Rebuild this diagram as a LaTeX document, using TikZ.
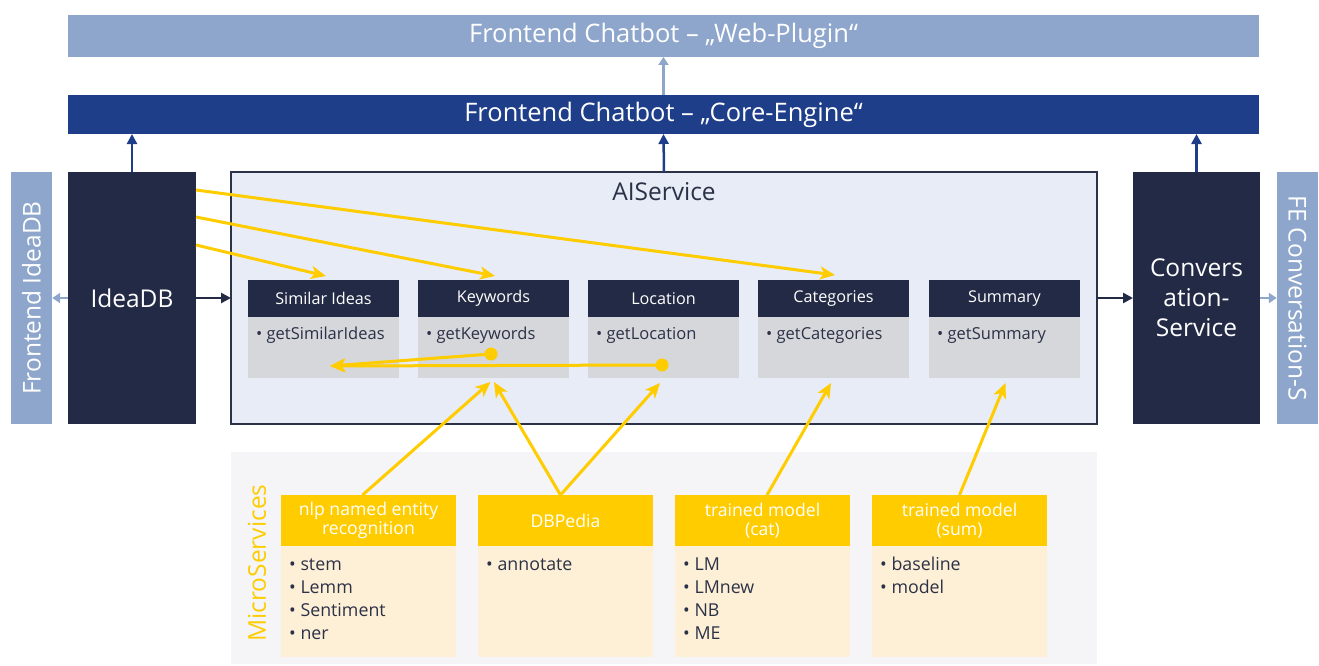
\documentclass[tikz,border=0pt]{standalone}
\usepackage{fontspec}
\setmainfont{Open Sans}
\usetikzlibrary{arrows.meta}

\definecolor{paleblue}{HTML}{8EA6CC}
\definecolor{coreblue}{HTML}{1E3E8A}
\definecolor{navy}{HTML}{232A45}
\definecolor{aifill}{HTML}{E8ECF6}
\definecolor{aiborder}{HTML}{2B3147}
\definecolor{bodygray}{HTML}{D6D7DB}
\definecolor{sunyellow}{HTML}{FFCC00}
\definecolor{cream}{HTML}{FEF0D6}
\definecolor{msback}{HTML}{F5F5F7}
\definecolor{inktext}{HTML}{2B3147}

\tikzset{
  plate/.style={inner sep=0pt, outer sep=0pt, anchor=north west},
  bigtext/.style={font=\fontsize{24.5}{30}\selectfont, text=white},
  bartext/.style={font=\fontsize{25.5}{30}\selectfont, text=white},
  fnhead/.style={plate, fill=navy, minimum width=151, minimum height=37,
    text=white, font=\fontsize{16.2}{18}\selectfont},
  fnbody/.style={plate, fill=bodygray, minimum width=151, minimum height=61},
  mshead/.style={plate, fill=sunyellow, minimum width=175, minimum height=51,
    text=white, align=center, font=\fontsize{17.6}{19}\selectfont},
  msbody/.style={plate, fill=cream, minimum width=175, minimum height=111},
  item/.style={inner sep=0pt, anchor=base west, text=inktext,
    font=\fontsize{17.8}{20}\selectfont},
  fnitem/.style={inner sep=0pt, anchor=base west, text=inktext,
    font=\fontsize{16.5}{20}\selectfont},
  darkarrow/.style={draw=navy, line width=2.5pt, -{Triangle[length=10pt,width=10pt]}},
  uparrow/.style={draw=coreblue, line width=2.5pt, -{Triangle[length=10pt,width=10pt]}},
  palearrow/.style={draw=paleblue, line width=2.5pt, -{Triangle[length=8pt,width=10pt]}},
  yarrow/.style={draw=sunyellow, line width=3pt,
    -{Stealth[length=15pt,width=13pt,inset=4pt]}},
  ydot/.style={circle, fill=sunyellow, inner sep=0pt, minimum size=13pt}
}

\begin{document}
\begin{tikzpicture}[x=1pt, y=-1pt]
\useasboundingbox (0,0) rectangle (1319,666);

% top bars
\node[plate, fill=paleblue, minimum width=1191, minimum height=42] (web) at (68,15) {};
\node[bartext] (webtxt) at (web.center) {Frontend Chatbot – „Web-Plugin“};
\node[plate, fill=coreblue, minimum width=1191, minimum height=39] (core) at (68,95) {};
\node[bartext] (coretxt) at (core.center) {Frontend Chatbot – „Core-Engine“};

% side services
\node[fill=paleblue, inner sep=0pt, minimum width=252, minimum height=41, rotate=90,
  bigtext] (feidea) at (31.5,298) {Frontend IdeaDB};
\node[plate, fill=navy, minimum width=128, minimum height=252] (ideadb) at (68,172) {};
\node[bigtext] (ideatxt) at (ideadb.center) {IdeaDB};

\node[plate, fill=navy, minimum width=127, minimum height=252] (conv) at (1133,172) {};
\node[bigtext, align=center] (convtxt) at (conv.center) {Convers\\ation-\\Service};
\node[fill=paleblue, inner sep=0pt, minimum width=252, minimum height=41, rotate=-90,
  bigtext] (feconv) at (1297.5,298) {FE Conversation-S};

% AI service container
\node[plate, fill=aifill, draw=aiborder, line width=2pt, minimum width=866,
  minimum height=252] (ai) at (231,172) {};
\node[font=\fontsize{24.5}{28}\selectfont, text=inktext] (aititle) at (664,192) {AIService};

% functions inside the AI service
\foreach \n/\x/\h/\f in {sim/248/Similar Ideas/getSimilarIdeas,
                         kw/418/Keywords/getKeywords,
                         loc/588/Location/getLocation,
                         cat/758/Categories/getCategories,
                         sum/929/Summary/getSummary}{
  \node[fnhead] (\n) at (\x,280) {\h};
  \node[fnbody] (\n b) at (\x,317) {};
  \node[fnitem] (\n i) at (\x+8,339.5) {\textbullet\ \f};
}

% micro services area
\node[plate, fill=msback, minimum width=866, minimum height=212] (ms) at (231,452) {};
\node[rotate=90, text=sunyellow, font=\fontsize{24.5}{26}\selectfont] (mstitle)
  at (257,563) {MicroServices};

\node[mshead] (nlp) at (281,495) {nlp named entity\\recognition};
\node[msbody] (nlpb) at (281,546) {};
\node[mshead] (dbp) at (478,495) {DBPedia};
\node[msbody] (dbpb) at (478,546) {};
\node[mshead] (tcat) at (675,495) {trained model\\(cat)};
\node[msbody] (tcatb) at (675,546) {};
\node[mshead] (tsum) at (872,495) {trained model\\(sum)};
\node[msbody] (tsumb) at (872,546) {};

\foreach \t [count=\i] in {stem, Lemm, Sentiment, ner}
  \node[item] (nlp\i) at (289,570+23*\i-23) {\textbullet\ \t};
\node[item] (dbp1) at (486,570) {\textbullet\ annotate};
\foreach \t [count=\i] in {LM, LMnew, NB, ME}
  \node[item] (tcat\i) at (683,570+23*\i-23) {\textbullet\ \t};
\foreach \t [count=\i] in {baseline, model}
  \node[item] (tsum\i) at (880,570+23*\i-23) {\textbullet\ \t};

% frontend connections
\draw[palearrow] (core.north) -- (web.south);
\draw[uparrow] (ideadb.north) -- (ideadb.north |- core.south);
\draw[uparrow] (ai.north) -- (core.south);
\draw[uparrow] (conv.north) -- (conv.north |- core.south);
\draw[palearrow] (ideadb.west) -- (feidea.south);
\draw[darkarrow] (ideadb.east) -- (ai.west);
\draw[darkarrow] (ai.east) -- (conv.west);
\draw[palearrow] (conv.east) -- (feconv.south);

% data flows from IdeaDB
\draw[yarrow] ([yshift=-18]ideadb.north east) -- ([xshift=1.5,yshift=5]cat.north);
\draw[yarrow] ([yshift=-45]ideadb.north east) -- ([xshift=1.5,yshift=4]kw.north);
\draw[yarrow] ([yshift=-73]ideadb.north east) -- ([xshift=2.5,yshift=4]sim.north);

% similar ideas use keywords and location
\node[ydot] (kwdot) at (491,354) {};
\node[ydot] (locdot) at (662,365) {};
\coordinate (simin) at (330,366);
\draw[yarrow] (locdot.center) -- (simin);
\draw[yarrow] (kwdot.center) -- (simin);

% micro services feeding the functions
\draw[yarrow] ([xshift=-6]nlp.north) -- ([xshift=-3,yshift=-4]kwb.south);
\draw[yarrow] ([xshift=-5]dbp.north) -- ([xshift=0.5,yshift=-4]kwb.south);
\draw[yarrow] ([xshift=-5]dbp.north) -- ([xshift=-3.5,yshift=-5]locb.south);
\draw[yarrow] ([xshift=4.5]tcat.north) -- ([xshift=-2.5,yshift=-5]catb.south);
\draw[yarrow] (tsum.north) -- ([xshift=1,yshift=-5]sumb.south);
\end{tikzpicture}
\end{document}
